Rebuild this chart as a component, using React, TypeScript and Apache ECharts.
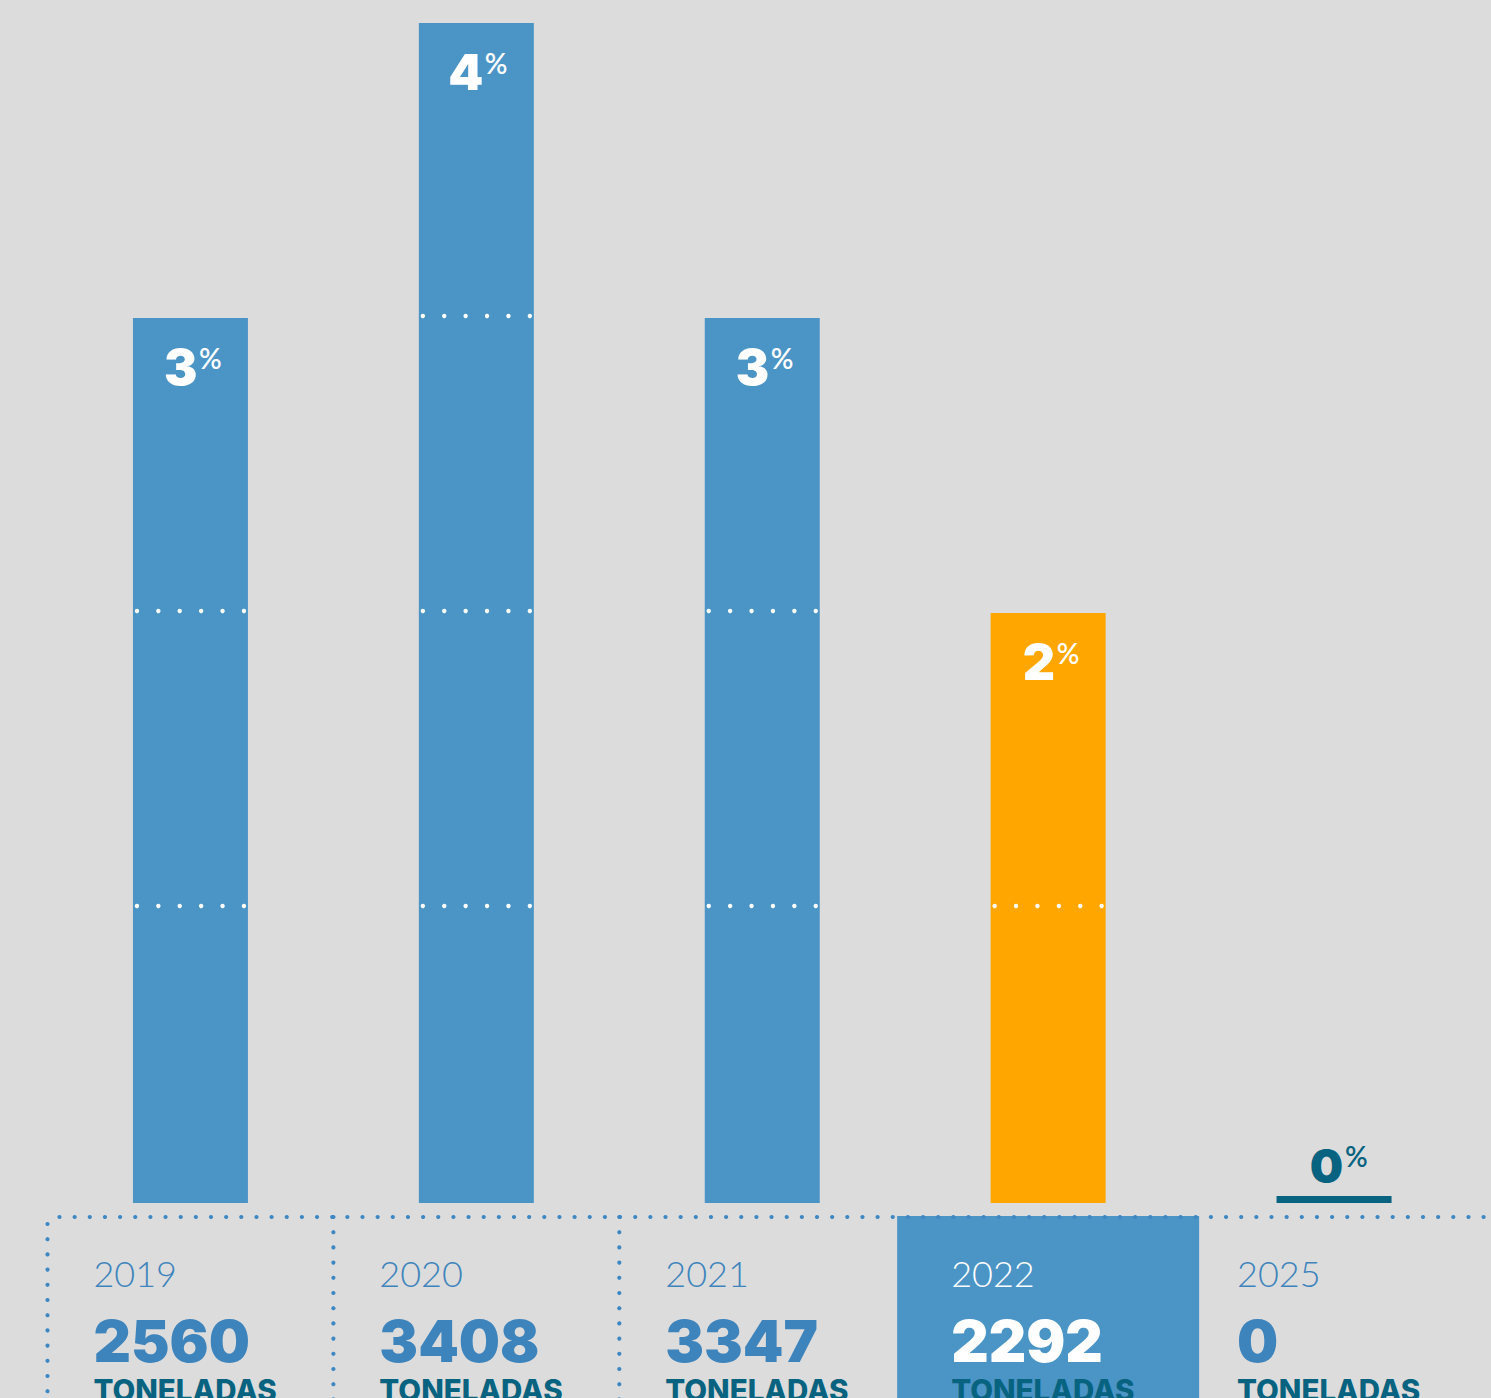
import React, { useEffect, useRef } from "react";
import * as echarts from "echarts";

const years = ["2019", "2020", "2021", "2022", "2025"];
const percentValues = [3, 4, 3, 2, 0];
const tonnes = [2560, 3408, 3347, 2292, 0];
const unitLabel = "TONELADAS";
const highlightIndex = 3;

const BG = "#dcdcdc";
const BLUE = "#4b94c6";
const ORANGE = "#ffa600";
const DARK = "#07637f";
const TEXT_BLUE = "#3e84bc";
const DOT_BLUE = "#3d87c3";
const FONT = "Lato, 'Open Sans', sans-serif";
const HEAVY = "Inter, Lato, sans-serif";

export default function App() {
  const ref = useRef<HTMLDivElement>(null);
  useEffect(() => {
    document.body.style.margin = "0";
    const chart = echarts.init(ref.current!, undefined, { renderer: "svg" });
    const W = 1491;
    const H = 1398;
    const renderItem = (params: any, api: any) => {
      const i = api.value(0);
      const v = api.value(1);
      const [cx, yTop] = api.coord([i, v]);
      const y0 = api.coord([i, 0])[1];
      const band = api.size([1, 0])[0];
      const barW = 115;
      const children: any[] = [];
      const isHL = i === highlightIndex;
      if (v > 0) {
        children.push({
          type: "rect",
          shape: { x: cx - barW / 2, y: yTop, width: barW, height: y0 - yTop },
          style: { fill: isHL ? ORANGE : BLUE },
        });
        for (let k = 1; k < v; k++) {
          const ly = api.coord([i, k])[1] - 2;
          for (let j = 0; j < 6; j++) {
            children.push({
              type: "circle",
              shape: { cx: cx - barW / 2 + 4 + j * 21.4, cy: ly, r: 2.2 },
              style: { fill: "#ffffff" },
            });
          }
        }
        children.push({
          type: "text",
          style: {
            text: String(v),
            x: cx + 7,
            y: yTop + 49,
            align: "right",
            verticalAlign: "middle",
            fill: "#ffffff",
            font: `900 50px ${HEAVY}`,
          },
        });
        children.push({
          type: "text",
          style: {
            text: "%",
            x: cx + 8.5,
            y: yTop + 40,
            align: "left",
            verticalAlign: "middle",
            fill: "#ffffff",
            font: `600 28px ${FONT}`,
          },
        });
      } else {
        children.push({
          type: "rect",
          shape: { x: cx - barW / 2, y: y0 - 7, width: barW, height: 7 },
          style: { fill: DARK },
        });
        children.push({
          type: "text",
          style: {
            text: String(v),
            x: cx + 9,
            y: y0 - 37.5,
            align: "right",
            verticalAlign: "middle",
            fill: DARK,
            font: `900 47px ${HEAVY}`,
          },
        });
        children.push({
          type: "text",
          style: {
            text: "%",
            x: cx + 11,
            y: y0 - 47.5,
            align: "left",
            verticalAlign: "middle",
            fill: DARK,
            font: `600 28px ${FONT}`,
          },
        });
      }
      if (isHL) {
        children.push({
          type: "rect",
          z2: -1,
          shape: { x: cx - 151, y: y0 + 13, width: 302, height: H - y0 },
          style: { fill: BLUE },
        });
      }
      if (i < highlightIndex) {
        const dx = cx - band / 2;
        const startY = i === 0 ? y0 + 21 : y0 + 14;
        for (let y = startY; y < H + 5; y += 15.2) {
          children.push({
            type: "circle",
            shape: { cx: dx, cy: y, r: 2.1 },
            style: { fill: DOT_BLUE },
          });
        }
      }
      if (i === 0) {
        for (let x = cx - band / 2 + 12; x < W + 5; x += 15.15) {
          children.push({
            type: "circle",
            z2: 10,
            shape: { cx: x, cy: y0 + 14, r: 2.1 },
            style: { fill: DOT_BLUE },
          });
        }
      }
      const tx = cx - 97;
      children.push({
        type: "text",
        style: {
          text: years[i],
          x: tx,
          y: y0 + 70,
          align: "left",
          verticalAlign: "middle",
          fill: isHL ? "#ffffff" : TEXT_BLUE,
          font: `300 36px ${FONT}`,
        },
      });
      children.push({
        type: "text",
        style: {
          text: String(tonnes[i]),
          x: tx,
          y: y0 + 138,
          align: "left",
          verticalAlign: "middle",
          fill: isHL ? "#ffffff" : TEXT_BLUE,
          font: `900 58px ${HEAVY}`,
        },
      });
      children.push({
        type: "text",
        style: {
          text: unitLabel,
          x: tx,
          y: y0 + 187,
          align: "left",
          verticalAlign: "middle",
          fill: DARK,
          font: `800 29.5px ${HEAVY}`,
        },
      });
      return { type: "group", children };
    };

    chart.setOption({
      animation: false,
      backgroundColor: BG,
      grid: { left: 47.5, right: 14, top: 23, bottom: 195 },
      xAxis: {
        type: "category",
        data: years,
        axisLine: { show: false },
        axisTick: { show: false },
        axisLabel: { show: false },
        splitLine: { show: false },
      },
      yAxis: {
        type: "value",
        min: 0,
        max: 4,
        interval: 1,
        show: false,
        splitLine: { show: false },
      },
      series: [
        {
          type: "custom",
          clip: false,
          renderItem,
          data: percentValues.map((v, i) => [i, v]),
        },
      ],
    });
    return () => chart.dispose();
  }, []);
  return <div ref={ref} style={{ width: 1491, height: 1398, background: BG }} />;
}
